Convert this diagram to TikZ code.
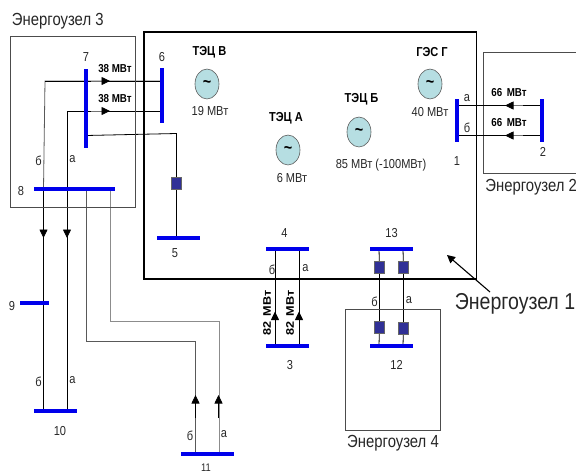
\documentclass[tikz,border=0pt]{standalone}
\usepackage{fontspec}
\setmainfont[FakeStretch=0.85]{Liberation Sans}
\newfontfamily\widefont[FakeStretch=1.15]{Liberation Sans}
\usetikzlibrary{arrows.meta,calc,shapes.geometric}
\pgfdeclarelayer{lines}
\pgfsetlayers{lines,main}
\definecolor{busblue}{RGB}{0,0,235}
\definecolor{genfill}{RGB}{182,222,226}
\definecolor{brk}{RGB}{48,48,150}
\tikzset{
  x=1pt,y=-1pt,
  every node/.style={inner sep=0pt,outer sep=0pt},
  hbus/.style={fill=busblue,minimum height=4pt},
  vbus/.style={fill=busblue,minimum width=4pt},
  gen/.style={ellipse,draw=black!65,line width=.6pt,fill=genfill,minimum width=24pt,minimum height=30pt,font=\fontsize{17}{17}\selectfont\bfseries},
  breaker/.style={rectangle,draw=black!60,line width=.5pt,fill=brk,minimum width=10pt,minimum height=12pt},
  num/.style={font=\fontsize{13}{14}\selectfont,text=black!85},
  lbl/.style={font=\fontsize{13}{14}\selectfont,text=black!85},
  plant/.style={font=\fontsize{13}{14}\selectfont\bfseries},
  pow/.style={font=\fontsize{13}{14}\selectfont,text=black!85},
  flowlbl/.style={font=\fontsize{11.5}{13}\selectfont\bfseries},
  vflowlbl/.style={font=\widefont\fontsize{11}{13}\selectfont\bfseries,rotate=90},
  area/.style={font=\fontsize{17.5}{19}\selectfont,text=black!85},
  tie/.style={draw=black,line width=.8pt},
  greytie/.style={draw=black!65,line width=.8pt},
  flow/.style={draw=black!55,line width=.8pt,-{Triangle[length=8.5pt,width=8pt,color=black]}},
  framebox/.style={draw=black!70,line width=.8pt}
}
\begin{document}
\begin{tikzpicture}
\useasboundingbox (0,0) rectangle (576,474);
% area boxes
\node[framebox,minimum width=125pt,minimum height=171pt] (e3) at (73,121.5) {};
\node[draw=black,line width=1.5pt,minimum width=332.5pt,minimum height=247pt] (e1) at (310,155.5) {};
\node[framebox,minimum width=94.5pt,minimum height=121pt] (e4) at (393,369.5) {};
\coordinate (e2tr) at (576,52);
\coordinate (e2tl) at (483,52);
\coordinate (e2bl) at (483,173);
\coordinate (e2br) at (576,173);
% buses
\node[vbus,minimum height=79pt] (b7) at (86,108.5) {};
\node[vbus,minimum height=55pt] (b6) at (162,95.5) {};
\node[hbus,minimum width=81pt] (b8) at (74.5,189) {};
\node[hbus,minimum width=43pt] (b5) at (178.5,237.5) {};
\node[vbus,minimum height=43pt] (b1) at (457,120.5) {};
\node[vbus,minimum height=43pt] (b2) at (542,120.5) {};
\node[hbus,minimum width=43pt] (b4) at (287.5,249) {};
\node[hbus,minimum width=43pt] (b13) at (391.5,249) {};
\node[hbus,minimum width=43pt] (b3) at (287.5,345.5) {};
\node[hbus,minimum width=43pt] (b12) at (391.5,345.5) {};
\node[hbus,minimum width=29pt] (b9) at (34.5,303) {};
\node[hbus,minimum width=43pt] (b10) at (55.5,411) {};
\node[hbus,minimum width=53pt] (b11) at (207.5,454) {};
% generators
\node[gen] (gv) at (207,84) {\raisebox{-3pt}{\textasciitilde}};
\node[gen] (ga) at (288,150) {\raisebox{-3pt}{\textasciitilde}};
\node[gen] (gb) at (359,132) {\raisebox{-3pt}{\textasciitilde}};
\node[gen] (gg) at (430,84) {\raisebox{-3pt}{\textasciitilde}};
% breakers
\node[breaker] (q5) at (176.5,183) {};
\node[breaker] (q13b) at (379.5,267) {};
\node[breaker] (q13a) at (403.5,267.5) {};
\node[breaker] (q12b) at (379.5,327) {};
\node[breaker] (q12a) at (403.5,328) {};
% connectors
\begin{pgfonlayer}{lines}
\draw[framebox] (e2tr) -- (e2tl) -- (e2bl) -- (e2br);
% 6 - 10 (b, a)
\draw[greytie] ($(b6)+(0,-14.5)$) -- ++(-117,0) -- ($(b8.west)+(9.5,0)$);
\draw[tie] ($(b6)+(0,-14.5)$) -- ++(-117,0);
\draw[tie] ($(b8.west)+(9.5,0)$) -- ($(b10.west)+(9.5,0)$);
\draw[tie] ($(b6)+(0,15.5)$) -- ++(-94.5,0) -- ($(b10.west)+(33.5,0)$);
% 7 - 5
\draw[tie] ($(b7)+(0,27)$) -- ($(b5.north)+(-2,-102)$) -- (q5.north);
\draw[tie] (q5.south) -- ($(b5.north)+(-2,0)$);
% 8 - 11
\draw[greytie] ($(b8.west)+(52.5,0)$) |- ($(b11.west)+(14.5,-113)$) -- ($(b11.west)+(14.5,0)$);
\draw[greytie,draw=black!45] ($(b8.west)+(76,0)$) -- ($(b8.west)+(76,132)$) -- ($(b11.west)+(38,-133)$) -- ($(b11.west)+(38,0)$);
% 1 - 2
\draw[tie] ($(b1)+(0,-15)$) -- ($(b2)+(0,-15)$);
\draw[tie] ($(b1)+(0,15)$) -- ($(b2)+(0,15)$);
% 4 - 3
\draw[tie] ($(b4.west)+(9,0)$) -- ($(b3.west)+(9,0)$);
\draw[tie] ($(b4.west)+(33,0)$) -- ($(b3.west)+(33,0)$);
% 13 - 12
\draw[tie] ($(b13.west)+(9,0)$) -- (q13b) -- (q12b) -- ($(b12.west)+(9,0)$);
\draw[tie] ($(b13.west)+(33,0)$) -- (q13a) -- (q12a) -- ($(b12.west)+(33,0)$);
\end{pgfonlayer}
% flow arrows
\draw[flow] ($(b7)+(5,-27.5)$) -- ++(19,0);
\draw[flow] ($(b7)+(5,2.5)$) -- ++(19,0);
\draw[flow] ($(b2)+(-19,-15)$) -- ++(-18,0);
\draw[flow] ($(b2)+(-19,15)$) -- ++(-18,0);
\draw[flow,draw=black] ($(b8.west)+(9.5,26)$) -- ++(0,23);
\draw[flow,draw=black] ($(b8.west)+(33,26)$) -- ++(0,23);
\draw[flow,draw=black] ($(b11.west)+(14.5,-36)$) -- ++(0,-23);
\draw[flow,draw=black] ($(b11.west)+(37.5,-36)$) -- ++(0,-23);
\draw[flow,draw=black] ($(b3.west)+(9,-12)$) -- ++(0,-22);
\draw[flow,draw=black] ($(b3.west)+(33,-12)$) -- ++(0,-22);
% labels
\node[area,anchor=west] (t3) at (12,21) {Энергоузел 3};
\node[area,anchor=east] (t2) at (577,187) {Энергоузел 2};
\node[area] (t4) at (393,443) {Энергоузел 4};
\node[font=\fontsize{23}{24}\selectfont,text=black!85] (t1) at (515,304) {Энергоузел 1};
\coordinate (t1tail) at (490,292);
\coordinate (t1tip) at (447,255);
\draw[line width=1.1pt,-{Triangle[length=8pt,width=8pt]}] (t1tail) -- (t1tip);
\node[plant] (pv) at (209.5,52) {ТЭЦ В};
\node[plant] (pa) at (286,118) {ТЭЦ А};
\node[plant] (pb) at (361.5,99) {ТЭЦ Б};
\node[plant] (pg) at (432,52) {ГЭС Г};
\node[pow] (mv) at (210,111) {19 МВт};
\node[pow] (ma) at (292,178) {6 МВт};
\node[pow] (mb) at (381,165) {85 МВт (-100МВт)};
\node[pow] (mg) at (430,112) {40 МВт};
\node[flowlbl] (f1) at (115,69) {38 МВт};
\node[flowlbl] (f2) at (115,99) {38 МВт};
\node[flowlbl] (f3) at (509,93) {66 \,МВт};
\node[flowlbl] (f4) at (509,123) {66 \,МВт};
\node[vflowlbl] (f5) at (267,313) {82 \,МВт};
\node[vflowlbl] (f6) at (290,313) {82 \,МВт};
\node[num] (n1) at (457,161) {1};
\node[num] (n2) at (543,152) {2};
\node[num] (n3) at (290,365) {3};
\node[num] (n4) at (284.5,233) {4};
\node[num] (n5) at (175,253) {5};
\node[num] (n6) at (162,57) {6};
\node[num] (n7) at (86,57) {7};
\node[num] (n8) at (21,191) {8};
\node[num] (n9) at (12,306) {9};
\node[num] (n10) at (60,431) {10};
\node[num,font=\fontsize{11}{12}\selectfont] (n11) at (206,467.5) {11};
\node[num] (n12) at (396.5,365) {12};
\node[num] (n13) at (391.5,233) {13};
\node[lbl] (l1) at (38.5,161) {б};
\node[lbl] (l2) at (72.5,159) {а};
\node[lbl] (l3) at (38.5,382) {б};
\node[lbl] (l4) at (72.5,380) {а};
\node[lbl] (l5) at (190,436) {б};
\node[lbl] (l6) at (224,434) {а};
\node[lbl] (l7) at (272,270) {б};
\node[lbl] (l8) at (305.5,268) {а};
\node[lbl] (l9) at (374.5,302) {б};
\node[lbl] (l10) at (409,300) {а};
\node[lbl] (l11) at (467,98) {а};
\node[lbl] (l12) at (467,128) {б};
\end{tikzpicture}
\end{document}
